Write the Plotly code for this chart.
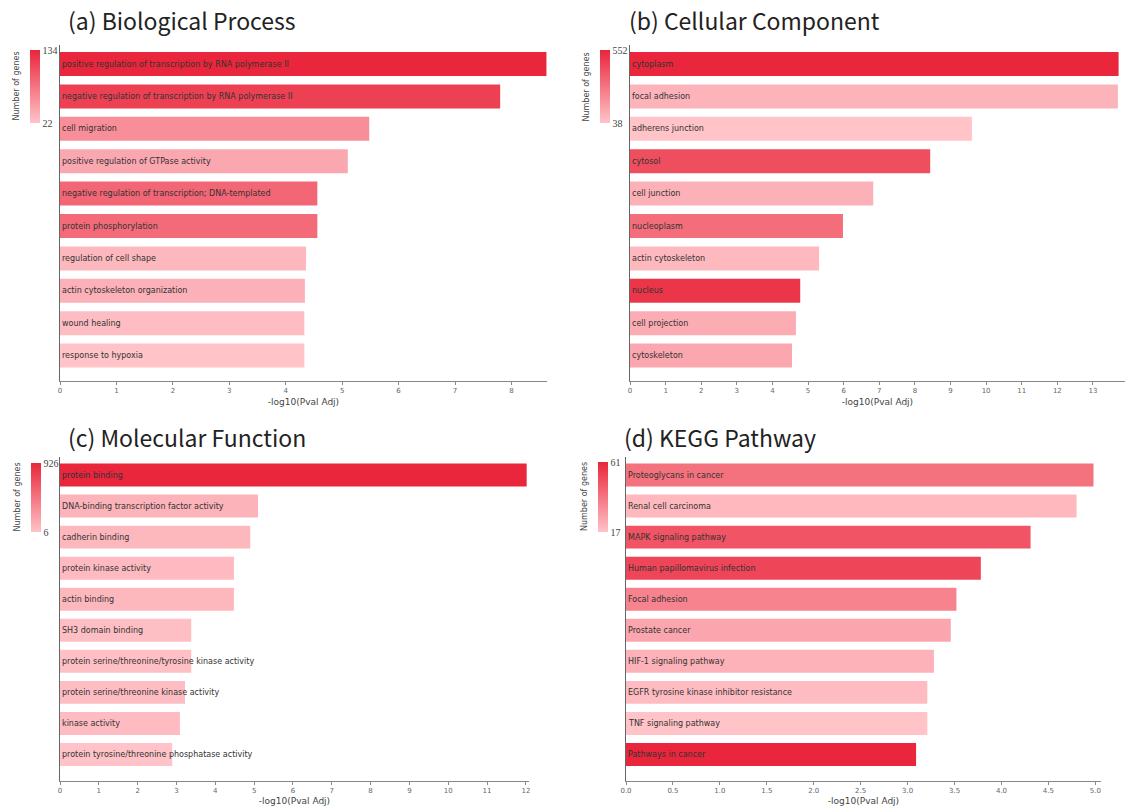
import plotly.graph_objects as go

W, H = 1128, 806

bp_terms = ["positive regulation of transcription by RNA polymerase II",
            "negative regulation of transcription by RNA polymerase II",
            "cell migration", "positive regulation of GTPase activity",
            "negative regulation of transcription; DNA-templated",
            "protein phosphorylation", "regulation of cell shape",
            "actin cytoskeleton organization", "wound healing", "response to hypoxia"]
bp_vals = [8.62, 7.80, 5.48, 5.10, 4.56, 4.56, 4.36, 4.34, 4.33, 4.33]
bp_genes = [134, 115, 60, 42, 88, 85, 30, 35, 26, 22]

cc_terms = ["cytoplasm", "focal adhesion", "adherens junction", "cytosol", "cell junction",
            "nucleoplasm", "actin cytoskeleton", "nucleus", "cell projection", "cytoskeleton"]
cc_vals = [13.72, 13.70, 9.60, 8.43, 6.83, 5.98, 5.31, 4.78, 4.66, 4.55]
cc_genes = [552, 90, 38, 420, 100, 320, 70, 500, 110, 130]

mf_terms = ["protein binding", "DNA-binding transcription factor activity", "cadherin binding",
            "protein kinase activity", "actin binding", "SH3 domain binding",
            "protein serine/threonine/tyrosine kinase activity",
            "protein serine/threonine kinase activity", "kinase activity",
            "protein tyrosine/threonine phosphatase activity"]
mf_vals = [12.02, 5.10, 4.90, 4.48, 4.48, 3.38, 3.38, 3.22, 3.09, 2.89]
mf_genes = [926, 100, 70, 60, 70, 30, 25, 40, 45, 6]

kg_terms = ["Proteoglycans in cancer", "Renal cell carcinoma", "MAPK signaling pathway",
            "Human papillomavirus infection", "Focal adhesion", "Prostate cancer",
            "HIF-1 signaling pathway", "EGFR tyrosine kinase inhibitor resistance",
            "TNF signaling pathway", "Pathways in cancer"]
kg_vals = [4.98, 4.80, 4.31, 3.78, 3.52, 3.46, 3.28, 3.21, 3.21, 3.09]
kg_genes = [40, 20, 48, 52, 35, 25, 22, 19, 17, 61]

titles = ["(a) Biological Process", "(b) Cellular Component",
          "(c) Molecular Function", "(d) KEGG Pathway"]

colorscale = [[0, "#FFC3C8"], [1, "#E9263B"]]

def px_x(p):
    return p / W

def px_y(p):
    return 1 - p / H

panels = [
    dict(terms=bp_terms, vals=bp_vals, genes=bp_genes, x0=60, x1=547, yt=45, yb=381, bs=47.8, be=371.8,
         xmax=8.63, dtick=1, fmt="d", cbx=30, cby0=50, cby1=123, tx=66, ty=20),
    dict(terms=cc_terms, vals=cc_vals, genes=cc_genes, x0=630, x1=1125, yt=45, yb=381, bs=47.8, be=371.8,
         xmax=13.9, dtick=1, fmt="d", cbx=600, cby0=50, cby1=123, tx=627, ty=20),
    dict(terms=mf_terms, vals=mf_vals, genes=mf_genes, x0=60, x1=529, yt=457, yb=781, bs=459.5, be=770,
         xmax=12.08, dtick=1, fmt="d", cbx=31, cby0=463, cby1=532, tx=66, ty=437),
    dict(terms=kg_terms, vals=kg_vals, genes=kg_genes, x0=626, x1=1101, yt=457, yb=781, bs=459.5, be=770,
         xmax=5.06, dtick=0.5, fmt=".1f", cbx=598, cby0=462, cby1=532, tx=622, ty=437),
]

fig = go.Figure()
annotations = []
font_fam = "DejaVu Sans, Verdana, sans-serif"

for i, p in enumerate(panels):
    n = len(p["terms"])
    idx = "" if i == 0 else str(i + 1)
    pitch = (p["be"] - p["bs"]) / n
    r_top = -0.5 - (p["bs"] - p["yt"]) / pitch
    r_bot = n - 0.5 + (p["yb"] - p["be"]) / pitch
    ca = "coloraxis" + idx
    fig.add_trace(go.Bar(
        x=p["vals"], y=list(range(n)), orientation="h",
        width=0.74,
        marker=dict(color=p["genes"], coloraxis=ca, line=dict(width=0)),
        xaxis="x" + idx, yaxis="y" + idx, showlegend=False,
        hovertext=p["terms"],
    ))
    gmin, gmax = min(p["genes"]), max(p["genes"])
    cb_len = p["cby1"] - p["cby0"]
    fig.layout[ca] = dict(
        colorscale=colorscale, cmin=gmin, cmax=gmax,
        colorbar=dict(
            x=px_x(p["cbx"]), xanchor="left", xref="paper",
            y=px_y(p["cby0"]), yanchor="top", yref="paper",
            len=cb_len, lenmode="pixels", thickness=10, thicknessmode="pixels",
            outlinewidth=0, ticks="", tickvals=[gmin, gmax],
            ticktext=[str(gmin), str(gmax)],
            tickfont=dict(size=10, color="#444", family="Liberation Serif, serif"),
            xpad=0, ypad=0,
        ),
    )
    fig.layout["xaxis" + idx] = dict(
        domain=[px_x(p["x0"]), px_x(p["x1"])], anchor="y" + idx,
        range=[0, p["xmax"]], dtick=p["dtick"], tick0=0, tickformat=p["fmt"],
        showgrid=False, zeroline=False, showline=True, linecolor="#888", linewidth=1,
        ticks="outside", ticklen=3, tickcolor="#888",
        tickfont=dict(size=7, color="#666", family=font_fam),
        title=dict(text="-log10(Pval Adj)", font=dict(size=9, color="#444", family=font_fam), standoff=4),
        fixedrange=True, automargin=False,
    )
    fig.layout["yaxis" + idx] = dict(
        domain=[px_y(p["yb"]), px_y(p["yt"])], anchor="x" + idx,
        range=[r_bot, r_top], showticklabels=False, ticks="", showgrid=False, zeroline=False,
        showline=True, linecolor="#666", linewidth=1, fixedrange=True, automargin=False,
    )
    for j, term in enumerate(p["terms"]):
        annotations.append(dict(
            text=term, x=0, y=j, xref="x" + idx, yref="y" + idx,
            xanchor="left", yanchor="middle", xshift=0, showarrow=False,
            font=dict(size=8, color="#333", family=font_fam),
        ))
    annotations.append(dict(
        text=titles[i], x=px_x(p["tx"]), y=px_y(p["ty"]), xref="paper", yref="paper",
        xanchor="left", yanchor="middle", showarrow=False,
        font=dict(size=23, color="#222", family="Noto Sans CJK JP, Noto Sans, sans-serif"),
    ))
    annotations.append(dict(
        text="Number of genes", x=px_x(p["cbx"] - 14), y=px_y((p["cby0"] + p["cby1"]) / 2),
        xref="paper", yref="paper", xanchor="center", yanchor="middle", textangle=-90,
        showarrow=False, font=dict(size=8, color="#444", family=font_fam),
    ))

fig.update_layout(
    width=W, height=H, margin=dict(l=0, r=0, t=0, b=0, autoexpand=False),
    paper_bgcolor="white", plot_bgcolor="white",
    annotations=annotations, bargap=0.26,
)

fig.write_html("out.html")
